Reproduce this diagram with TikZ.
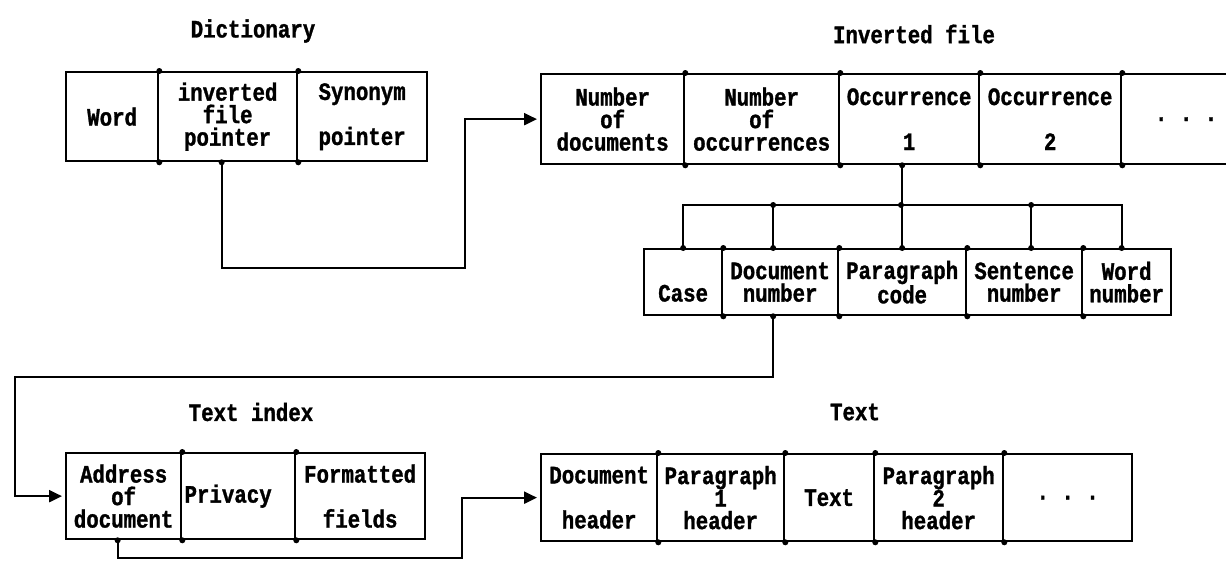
\documentclass[tikz,border=0pt]{standalone}
\usepackage{fontspec}
\newfontfamily\dm{Liberation Mono}[FakeStretch=0.83,FakeBold=1.2]
\usetikzlibrary{arrows.meta}
\begin{document}
\begin{tikzpicture}[x=1pt,y=-1pt,
  ln/.style={line width=2.3pt},
  arr/.style={ln,-{Triangle[length=13pt,width=12pt]},shorten >=3pt},
  cell/.style={draw,line width=2.3pt,anchor=north west,inner sep=0pt,align=center,
    font=\dm\bfseries\fontsize{25}{22.5}\selectfont},
  ttl/.style={font=\dm\bfseries\fontsize{25}{22.5}\selectfont},
  jn/.style={fill=black}]
\useasboundingbox (0,0) rectangle (1226,562);
\clip (0,0) rectangle (1226,562);

% titles
\node[ttl] (tdict) at (253,31) {Dictionary};
\node[ttl] (tinv) at (914,34) {Inverted file};
\node[ttl] (tidx) at (251,412) {Text index};
\node[ttl] (ttxt) at (855,412) {Text};

% Dictionary
\node[cell,minimum width=92pt,minimum height=89pt] (d1) at (65,71) {Word};
\node[cell,minimum width=139pt,minimum height=89pt] (d2) at (157,71) {inverted\\file\\pointer};
\node[cell,minimum width=130pt,minimum height=89pt] (d3) at (296,71) {Synonym\\\mbox{}\\pointer};

% Inverted file
\node[cell,minimum width=143pt,minimum height=90pt] (i1) at (540,73) {Number\\of\\documents};
\node[cell,minimum width=155pt,minimum height=90pt] (i2) at (683,73) {Number\\of\\occurrences};
\node[cell,minimum width=140pt,minimum height=90pt] (i3) at (838,73) {Occurrence\\\mbox{}\\1};
\node[cell,minimum width=142pt,minimum height=90pt] (i4) at (978,73) {Occurrence\\\mbox{}\\2};
\node[cell,minimum width=130pt,minimum height=90pt] (i5) at (1120,73) {.\ .\ .};

% Occurrence fields
\node[cell,minimum width=78pt,minimum height=66pt] (l1) at (643,248) {\vphantom{Dg}\\Case};
\node[cell,minimum width=116pt,minimum height=66pt] (l2) at (721,248) {Document\\number};
\node[cell,minimum width=128pt,minimum height=66pt] (l3) at (837,248) {Paragraph\\code};
\node[cell,minimum width=116pt,minimum height=66pt] (l4) at (965,248) {Sentence\\number};
\node[cell,minimum width=89pt,minimum height=66pt] (l5) at (1081,248) {Word\\number};

% Text index
\node[cell,minimum width=115pt,minimum height=86pt] (x1) at (65,452) {Address\\of\\document};
\node[cell,minimum width=114pt,minimum height=86pt] (x2) at (180,452) {Privacy\hspace*{20pt}};
\node[cell,minimum width=130pt,minimum height=86pt] (x3) at (294,452) {Formatted\\\mbox{}\\fields};

% Text
\node[cell,minimum width=116pt,minimum height=87pt] (t1) at (540,453) {Document\\\mbox{}\\header};
\node[cell,minimum width=127pt,minimum height=87pt] (t2) at (656,453) {Paragraph\\1\\header};
\node[cell,minimum width=90pt,minimum height=87pt] (t3) at (783,453) {Text};
\node[cell,minimum width=129pt,minimum height=87pt] (t4) at (873,453) {Paragraph\\2\\header};
\node[cell,minimum width=129pt,minimum height=87pt] (t5) at (1002,453) {.\ .\ .};

% connector points
\coordinate (dp) at ([xshift=-6pt]d2.south);
\coordinate (c1) at (465,268);
\coordinate (occ) at (l3.north |- i3.south);
\coordinate (bus) at (901,205);
\coordinate (dCase) at (l1.north);
\coordinate (dDoc) at ([xshift=-7pt]l2.north);
\coordinate (dSen) at ([xshift=7pt]l4.north);
\coordinate (dWord) at ([xshift=-5pt]l5.north);
\coordinate (l2b) at ([xshift=-7pt]l2.south);
\coordinate (c2) at (15,377);
\coordinate (x1b) at ([xshift=-6pt]x1.south);
\coordinate (c3) at (462,558);

% connectors
\draw[arr] (dp) |- (c1) |- (i1.west);
\draw[ln] (occ) -- (l3.north);
\draw[ln] (dCase) |- (bus) -| (dWord);
\draw[ln] (dDoc) -- (dDoc |- bus);
\draw[ln] (dSen) -- (dSen |- bus);
\draw[arr] (l2b) |- (c2) |- (x1.west);
\draw[arr] (x1b) |- (c3) |- (t1.west);

% junction dots
\foreach \n in {d1,d2,i1,i2,i3,i4,l1,l2,l3,l4,x1,x2,t1,t2,t3,t4}{
  \fill[jn] (\n.north east) circle (3pt);
  \fill[jn] (\n.south east) circle (3pt);
}
\foreach \p in {dp,occ,dCase,dDoc,dSen,dWord,l2b,x1b,l3.north}{
  \fill[jn] (\p) circle (3pt);
}
\fill[jn] (dDoc |- bus) circle (3pt);
\fill[jn] (bus) circle (3pt);
\fill[jn] (dSen |- bus) circle (3pt);
\end{tikzpicture}
\end{document}
